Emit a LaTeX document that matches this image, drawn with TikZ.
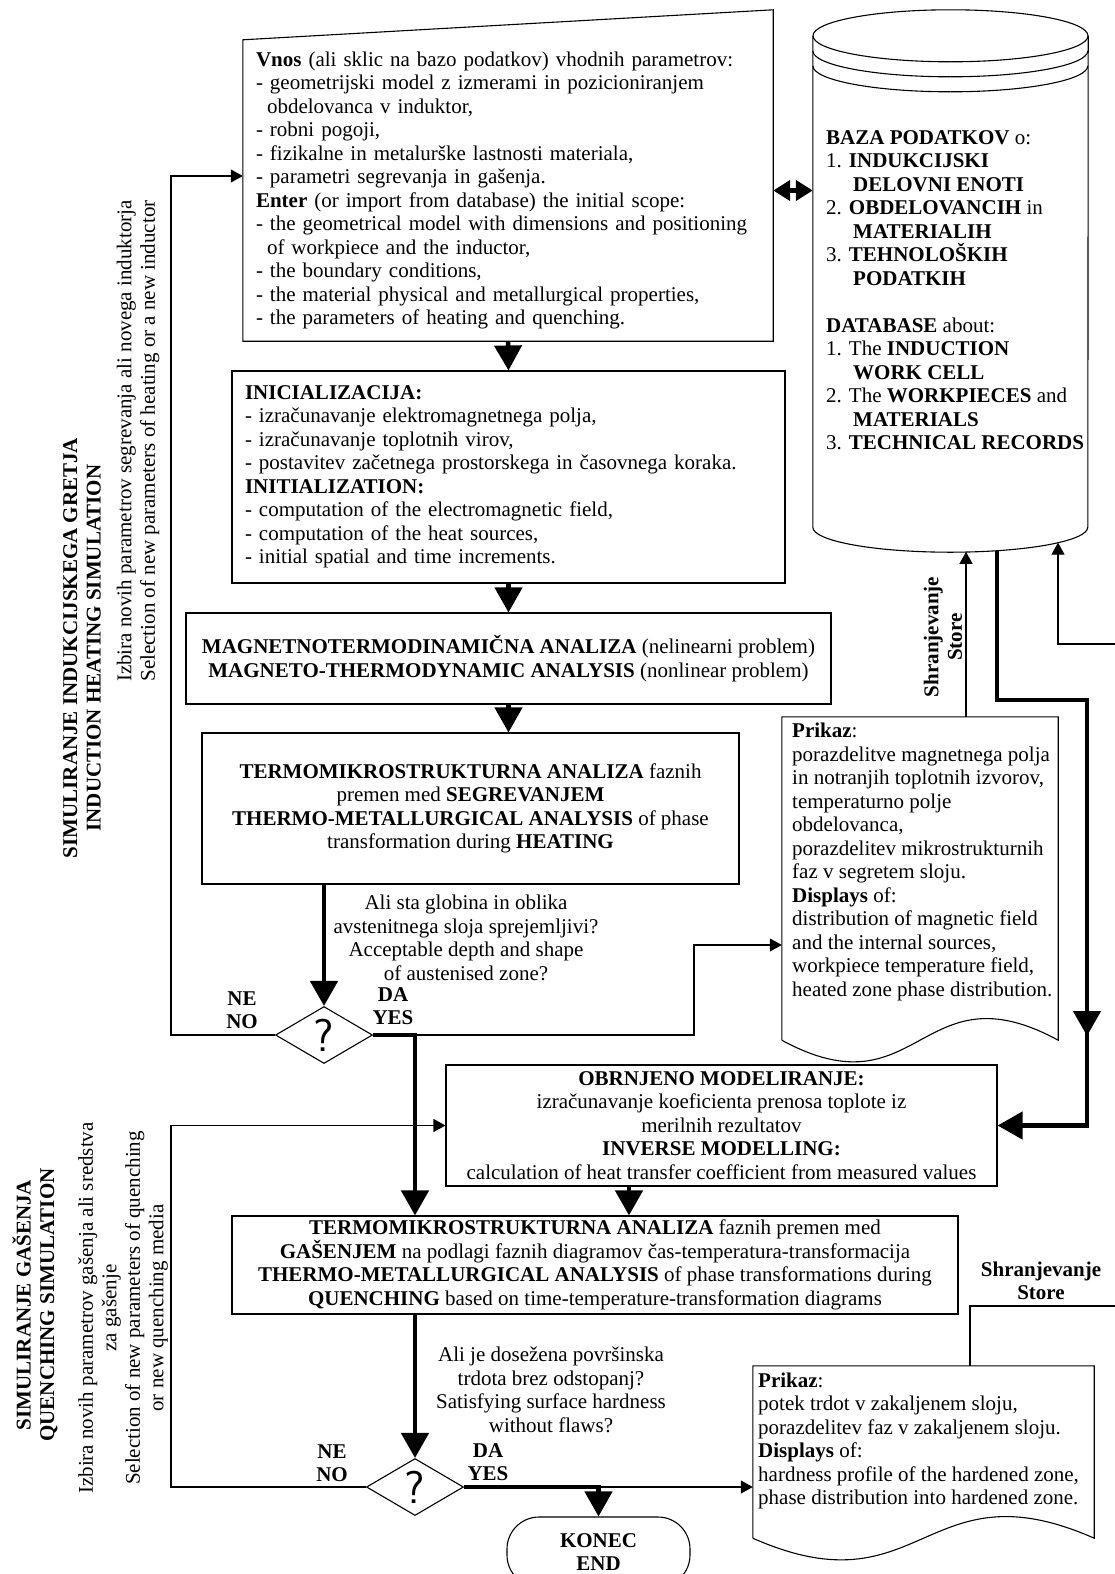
\documentclass[tikz,border=0pt]{standalone}
\usepackage{fontspec}
\setmainfont{Liberation Serif}
\usetikzlibrary{shapes.geometric, arrows.meta}
\newcommand{\bodysize}{\fontsize{21}{23.5}\selectfont}
\tikzstyle{process} = [rectangle, draw=black, line width=1.1pt, inner sep=0pt, align=center]
\tikzstyle{listbox} = [process, align=left]
\tikzstyle{plain} = [inner sep=0pt, align=center]
\tikzstyle{boldtext} = [plain, font=\bodysize\bfseries]
\tikzstyle{decision} = [diamond, draw=black, line width=1.1pt, inner sep=0pt, shape aspect=1.7, minimum width=97pt, minimum height=57pt, font=\sffamily\fontsize{46}{46}\selectfont]
\tikzstyle{startstop} = [rectangle, rounded corners=32pt, draw=black, line width=1.1pt, minimum width=183pt, minimum height=70pt, align=center, font=\bodysize\bfseries]
\tikzstyle{line} = [line width=1.1pt]
\tikzstyle{arrow} = [line, -{Triangle[length=12pt, width=13pt]}]
\tikzstyle{thickline} = [line width=4.5pt]
\tikzstyle{thickarrow} = [thickline, -{Triangle[length=25pt, width=27pt]}]
\tikzstyle{bothway} = [thickline, {Triangle[length=17pt, width=20pt]}-{Triangle[length=17pt, width=20pt]}]

\begin{document}
\begin{tikzpicture}[x=1pt, y=-1pt, font=\bodysize]
\useasboundingbox (0,0) rectangle (1114,1574);

\node (in1) [rectangle, inner sep=0pt, minimum width=530pt, minimum height=301pt, text width=504pt, align=left] at (508,190.5) {\textbf{Vnos} (ali sklic na bazo podatkov) vhodnih parametrov:\\- geometrijski model z izmerami in pozicioniranjem\\\hspace*{11pt}obdelovanca v induktor,\\- robni pogoji,\\- fizikalne in metalurške lastnosti materiala,\\- parametri segrevanja in gašenja.\\\textbf{Enter} (or import from database) the initial scope:\\- the geometrical model with dimensions and positioning\\\hspace*{11pt}of workpiece and the inductor,\\- the boundary conditions,\\- the material physical and metallurgical properties,\\- the parameters of heating and quenching.};
\draw [line] (in1.south west) -- (in1.north west) -- ([yshift=30pt]in1.north east) -- (in1.south east) -- cycle;

\node (pro1) [listbox, minimum width=553pt, minimum height=212pt, text width=527pt] at (508.5,477) {\textbf{INICIALIZACIJA:}\\- izračunavanje elektromagnetnega polja,\\- izračunavanje toplotnih virov,\\- postavitev začetnega prostorskega in časovnega koraka.\\\textbf{INITIALIZATION:}\\- computation of the electromagnetic field,\\- computation of the heat sources,\\- initial spatial and time increments.};
\node (pro2) [process, minimum width=645pt, minimum height=91pt] at (508.5,658.5) {\textbf{MAGNETNOTERMODINAMIČNA ANALIZA} (nelinearni problem)\\\textbf{MAGNETO-THERMODYNAMIC ANALYSIS} (nonlinear problem)};
\node (pro3) [process, minimum width=537pt, minimum height=151pt] at (470.5,808.5) {\textbf{TERMOMIKROSTRUKTURNA ANALIZA} faznih\\premen med \textbf{SEGREVANJEM}\\\textbf{THERMO-METALLURGICAL ANALYSIS} of phase\\transformation during \textbf{HEATING}};
\node (q1) [plain] at (466,938) {Ali sta globina in oblika\\avstenitnega sloja sprejemljivi?\\Acceptable depth and shape\\of austenised zone?};
\node (dec1) [decision] at (324,1035) {?};
\node (no1) [boldtext] at (242,1010) {NE\\NO};
\node (yes1) [boldtext] at (393,1006) {DA\\YES};

\node (db) [rectangle, minimum width=275pt, minimum height=491pt] at (950.5,281.5) {};
\draw [line] (db.north west) -- (db.south west) arc[start angle=180, end angle=360, x radius=137.5pt, y radius=25pt] -- (db.north east);
\draw [line] (db.north) ellipse [x radius=137.5pt, y radius=26pt];
\draw [line] ([yshift=-15pt]db.north west) arc[start angle=180, end angle=360, x radius=137.5pt, y radius=26pt];
\draw [line] ([yshift=-30pt]db.north west) arc[start angle=180, end angle=360, x radius=137.5pt, y radius=26pt];
\node (dbtxt) [inner sep=0pt, anchor=west, align=left] at (826,290) {\textbf{BAZA PODATKOV} o:\\1. \textbf{INDUKCIJSKI}\\\hspace*{27pt}\textbf{DELOVNI ENOTI}\\2. \textbf{OBDELOVANCIH} in\\\hspace*{27pt}\textbf{MATERIALIH}\\3. \textbf{TEHNOLOŠKIH}\\\hspace*{27pt}\textbf{PODATKIH}\\[23.5pt]\textbf{DATABASE} about:\\1. The \textbf{INDUCTION}\\\hspace*{27pt}\textbf{WORK CELL}\\2. The \textbf{WORKPIECES} and\\\hspace*{27pt}\textbf{MATERIALS}\\3. \textbf{TECHNICAL RECORDS}};

\node (out1) [rectangle, minimum width=276pt, minimum height=323pt] at (920,878.5) {};
\draw [line] (out1.south west) -- (out1.north west) -- (out1.north east) -- (out1.south east) .. controls +(-138,-75) and +(138,75) .. (out1.south west);
\node (out1txt) [inner sep=0pt, anchor=west, align=left] at (792,862) {\textbf{Prikaz}:\\porazdelitve magnetnega polja\\in notranjih toplotnih izvorov,\\temperaturno polje\\obdelovanca,\\porazdelitev mikrostrukturnih\\faz v segretem sloju.\\\textbf{Displays} of:\\distribution of magnetic field\\and the internal sources,\\workpiece temperature field,\\heated zone phase distribution.};
\node (store1) [boldtext, rotate=90] at (943,637) {Shranjevanje\\Store};

\node (pro4) [process, minimum width=551pt, minimum height=121pt] at (721.5,1125.5) {\textbf{OBRNJENO MODELIRANJE:}\\izračunavanje koeficienta prenosa toplote iz\\merilnih rezultatov\\\textbf{INVERSE MODELLING:}\\calculation of heat transfer coefficient from measured values};
\node (pro5) [process, minimum width=726pt, minimum height=98pt] at (595,1265) {\textbf{TERMOMIKROSTRUKTURNA ANALIZA} faznih premen med\\\textbf{GAŠENJEM} na podlagi faznih diagramov čas-temperatura-transformacija\\\textbf{THERMO-METALLURGICAL ANALYSIS} of phase transformations during\\\textbf{QUENCHING} based on time-temperature-transformation diagrams};
\node (q2) [plain] at (551,1390) {Ali je dosežena površinska\\trdota brez odstopanj?\\Satisfying surface hardness\\without flaws?};
\node (dec2) [decision] at (415,1487) {?};
\node (no2) [boldtext] at (332,1463) {NE\\NO};
\node (yes2) [boldtext] at (488,1462) {DA\\YES};
\node (stop) [startstop] at (598.5,1552) {KONEC\\END};

\node (out2) [rectangle, minimum width=341pt, minimum height=172pt] at (923.5,1452) {};
\draw [line] (out2.south west) -- (out2.north west) -- (out2.north east) -- (out2.south east) .. controls +(-170,-75) and +(170,75) .. (out2.south west);
\node (out2txt) [inner sep=0pt, anchor=west, align=left] at (758,1441) {\textbf{Prikaz}:\\potek trdot v zakaljenem sloju,\\porazdelitev faz v zakaljenem sloju.\\\textbf{Displays} of:\\hardness profile of the hardened zone,\\phase distribution into hardened zone.};
\node (store2) [boldtext] at (1041,1281) {Shranjevanje\\Store};

\node (heatsim) [boldtext, rotate=90] at (82,648) {SIMULIRANJE INDUKCIJSKEGA GRETJA\\INDUCTION HEATING SIMULATION};
\node (heatsel) [plain, rotate=90] at (138,441) {Izbira novih parametrov segrevanja ali novega induktorja\\Selection of new parameters of heating or a new inductor};
\node (quenchsim) [boldtext, rotate=90] at (35,1305) {SIMULIRANJE GAŠENJA\\QUENCHING SIMULATION};
\node (quenchsel) [plain, rotate=90] at (123,1308) {Izbira novih parametrov gašenja ali sredstva\\za gašenje\\Selection of new parameters of quenching\\or new quenching media};

\coordinate (lc1) at (171,1035);
\coordinate (lif1) at (171,176);
\coordinate (y1) at (415,1035);
\coordinate (r1) at (694,1035);
\coordinate (r1top) at (694,945);
\coordinate (dbin1) at (966,551.8);
\coordinate (dbout) at (997,550.5);
\coordinate (dbin2) at (1058,542.6);
\coordinate (ext1) at (1120,644);
\coordinate (lr1) at (1058,644);
\coordinate (c1) at (997,700);
\coordinate (c2) at (1087,700);
\coordinate (c3) at (1087,1125.5);
\coordinate (cmid) at (1087,1036);
\coordinate (lc2) at (171,1487);
\coordinate (lif2) at (171,1125.5);
\coordinate (y2) at (598.5,1487);
\coordinate (s2) at (970,1306);
\coordinate (ext2) at (1120,1306);

\draw [bothway] (in1.east) -- (in1.east -| db.west);
\draw [thickarrow] (in1.south) -- (pro1.north);
\draw [thickarrow] (pro1.south) -- (pro2.north);
\draw [thickarrow] (pro2.south) -- (pro2.south |- pro3.north);
\draw [thickarrow] (pro3.south -| dec1.north) -- (dec1.north);
\draw [arrow] (dec1.west) -- (lc1) -- (lif1) -- (lif1 -| in1.west);
\draw [arrow] (y1) -- (r1) -- (r1top) -- (r1top -| out1.west);
\draw [arrow] (out1.north -| dbin1) -- (dbin1);
\draw [arrow] (ext1) -- (lr1) -- (dbin2);
\draw [thickarrow] (dbout) -- (c1) -- (c2) -- (c3) -- (pro4.east);
\draw [thickarrow] (c2) -- (cmid);
\draw [arrow] (dec2.west) -- (lc2) -- (lif2) -- (lif2 -| pro4.west);
\draw [thickarrow] (dec1.east) -- (y1) -- (y1 |- pro5.north);
\draw [thickarrow] ([xshift=-92.5pt]pro4.south) -- ([xshift=-92.5pt]pro4.south |- pro5.north);
\draw [thickarrow] (pro5.south -| dec2.north) -- (dec2.north);
\draw [arrow] (y2) -- (y2 -| out2.west);
\draw [thickarrow] (dec2.east) -- (y2) -- (stop.north);
\draw [line] (out2.north -| s2) -- (s2) -- (ext2);
\end{tikzpicture}
\end{document}
